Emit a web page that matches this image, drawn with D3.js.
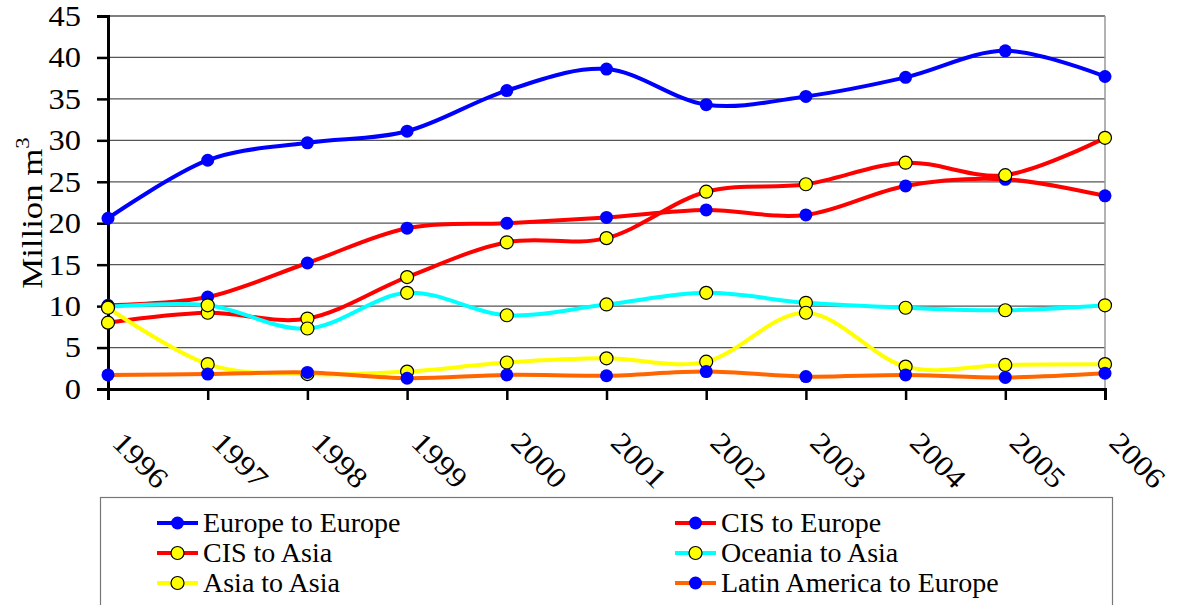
<!DOCTYPE html>
<html>
<head>
<meta charset="utf-8">
<script src="https://cdn.jsdelivr.net/npm/d3@7"></script>
<style>
  body { margin: 0; background: #fff; }
  svg text { font-family: "Liberation Serif", "Times New Roman", serif; }
</style>
</head>
<body>
<svg id="chart" width="1177" height="605"></svg>
<script>
// anos
const years = ["1996","1997","1998","1999","2000","2001","2002","2003","2004","2005","2006"];

// series (milhoes m3)
const europeEurope = [20.6, 27.6, 29.7, 31.1, 36.0, 38.6, 34.3, 35.3, 37.6, 40.8, 37.7];
const cisEurope    = [10.1, 11.1, 15.2, 19.4, 20.0, 20.7, 21.6, 21.0, 24.5, 25.3, 23.3];
const cisAsia      = [8.0, 9.2, 8.5, 13.5, 17.7, 18.2, 23.8, 24.7, 27.3, 25.8, 30.3];
const oceaniaAsia  = [9.9, 10.1, 7.3, 11.6, 8.9, 10.2, 11.6, 10.4, 9.8, 9.5, 10.1];
const asiaAsia     = [9.8, 3.0, 1.8, 2.1, 3.2, 3.7, 3.3, 9.2, 2.7, 2.9, 3.0];
const latamEurope  = [1.7, 1.8, 2.0, 1.3, 1.7, 1.6, 2.1, 1.5, 1.7, 1.4, 1.9];

const yTicks = [0, 5, 10, 15, 20, 25, 30, 35, 40, 45];

const series = [
  { name: "Europe to Europe",          values: europeEurope, line: "#0000ff", dot: "#0000ff", ring: "none" },
  { name: "CIS to Europe",             values: cisEurope,    line: "#ff0000", dot: "#0000ff", ring: "none" },
  { name: "CIS to Asia",               values: cisAsia,      line: "#ff0000", dot: "#ffff00", ring: "#000" },
  { name: "Oceania to Asia",           values: oceaniaAsia,  line: "#00ffff", dot: "#ffff00", ring: "#000" },
  { name: "Asia to Asia",              values: asiaAsia,     line: "#ffff00", dot: "#ffff00", ring: "#000" },
  { name: "Latin America to Europe",   values: latamEurope,  line: "#ff6600", dot: "#0000ff", ring: "none" }
];

const FONT = "Liberation Serif, Times New Roman, serif";
const $svg = d3.select("#chart");

const x = d3.scalePoint().domain(years).range([108, 1105]);
const y = d3.scaleLinear().domain([0, 45]).range([389, 16]);

// grade
$svg.append("g")
    .selectAll("line")
    .data(yTicks.filter(d => d > 0))
    .join("line")
    .attr("x1", 108).attr("x2", 1105)
    .attr("y1", d => y(d)).attr("y2", d => y(d))
    .attr("stroke", "#555").attr("stroke-width", 1.3);

// borda direita
$svg.append("line")
    .attr("x1", 1105).attr("x2", 1105)
    .attr("y1", y(45)).attr("y2", y(0))
    .attr("stroke", "#999").attr("stroke-width", 1.5);

// eixo y
const yAxis = $svg.append("g")
    .attr("transform", "translate(108,0)")
    .call(d3.axisLeft(y).tickValues(yTicks).tickSize(11).tickFormat(""));
yAxis.select(".domain").attr("stroke", "#000").attr("stroke-width", 3);
yAxis.selectAll(".tick line").attr("stroke", "#000").attr("stroke-width", 2.5);

$svg.append("g")
    .selectAll("text")
    .data(yTicks)
    .join("text")
    .attr("transform", d => `translate(81,${y(d)}) scale(1.12,1)`)
    .attr("text-anchor", "end")
    .attr("dy", "0.34em")
    .attr("font-family", FONT)
    .attr("font-size", 29)
    .text(d => d);

// eixo x
const xAxis = $svg.append("g")
    .attr("transform", "translate(0,389)")
    .call(d3.axisBottom(x).tickSize(11).tickFormat(""));
xAxis.select(".domain").attr("stroke", "#000").attr("stroke-width", 3);
xAxis.selectAll(".tick line").attr("stroke", "#000").attr("stroke-width", 2.5);

$svg.append("g")
    .selectAll("text")
    .data(years)
    .join("text")
    .attr("transform", d => `translate(${x(d) + 17},${430}) rotate(45) scale(1.12,1)`)
    .attr("font-family", FONT)
    .attr("font-size", 29)
    .attr("dy", "0.7em")
    .text(d => d);

// titulo eixo y
const yTitle = $svg.append("text")
    .attr("transform", "translate(42,213) rotate(-90) scale(1.2,1)")
    .attr("text-anchor", "middle")
    .attr("font-family", FONT)
    .attr("font-size", 29);
yTitle.append("tspan").text("Million m");
yTitle.append("tspan").attr("font-size", 19).attr("dy", -13).text("3");

// linhas
const line = d3.line()
    .x((d, i) => x(years[i]))
    .y(d => y(d))
    .curve(d3.curveCardinal.tension(0));

series.forEach(s => {
  $svg.append("path")
      .datum(s.values)
      .attr("d", line)
      .attr("fill", "none")
      .attr("stroke", s.line)
      .attr("stroke-width", 4);
  $svg.append("g")
      .selectAll("circle")
      .data(s.values)
      .join("circle")
      .attr("cx", (d, i) => x(years[i]))
      .attr("cy", d => y(d))
      .attr("r", 6.5)
      .attr("fill", s.dot)
      .attr("stroke", s.ring)
      .attr("stroke-width", 1.2);
});

// legenda
$svg.append("rect")
    .attr("x", 100.5).attr("y", 497.5)
    .attr("width", 1012).attr("height", 130)
    .attr("fill", "#fff")
    .attr("stroke", "#777").attr("stroke-width", 1.2);

const legCols = [157, 675];
const legRows = [523, 553, 583];
const $leg = $svg.append("g")
    .selectAll("g")
    .data(series)
    .join("g")
    .attr("transform", (d, i) => `translate(${legCols[i % 2]},${legRows[Math.floor(i / 2)]})`);
$leg.append("line")
    .attr("x1", 0).attr("x2", 41)
    .attr("stroke", d => d.line).attr("stroke-width", 4);
$leg.append("circle")
    .attr("cx", 20.5).attr("r", 6.5)
    .attr("fill", d => d.dot)
    .attr("stroke", d => d.ring).attr("stroke-width", 1.2);
$leg.append("text")
    .attr("x", 46)
    .attr("dy", "0.33em")
    .attr("font-family", FONT)
    .attr("font-size", 28)
    .text(d => d.name);
</script>
</body>
</html>
